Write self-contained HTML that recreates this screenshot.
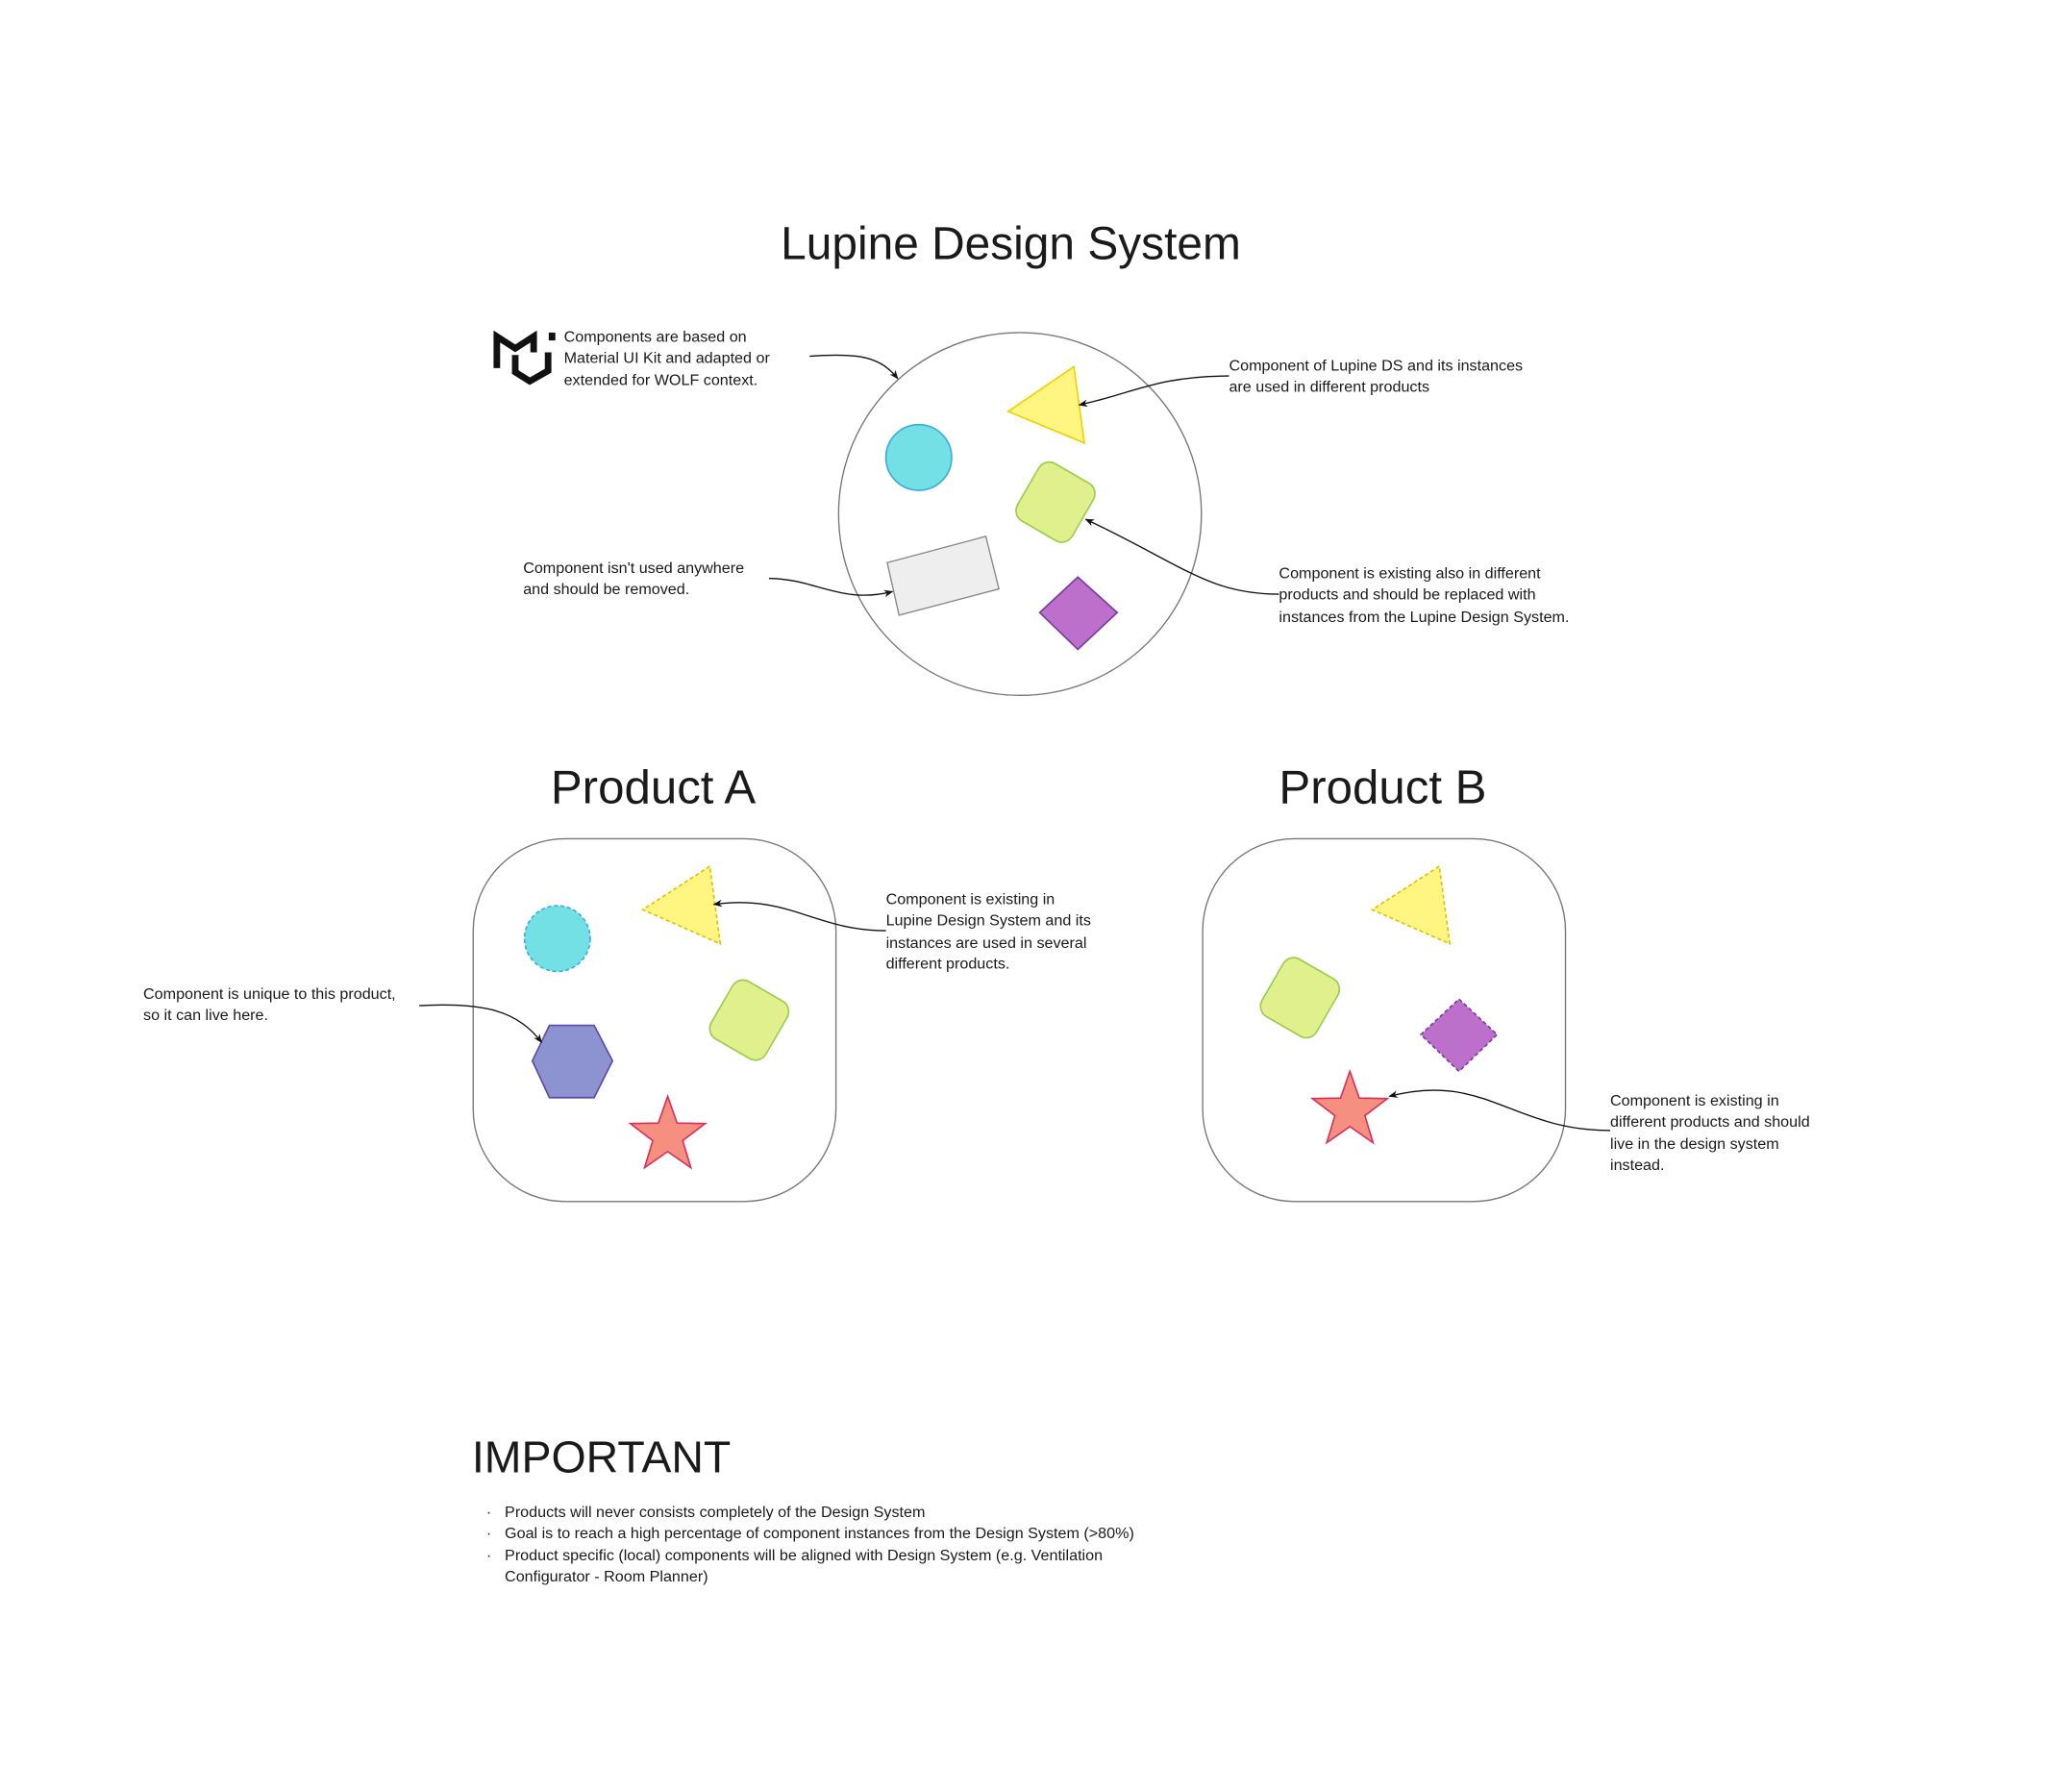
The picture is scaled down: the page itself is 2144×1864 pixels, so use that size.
<!DOCTYPE html>
<html><head><meta charset="utf-8"><style>
html,body{margin:0;padding:0;background:#fff;}
svg{display:block;}
text{font-family:"Liberation Sans",sans-serif;fill:#1a1a1a;}
.s{font-size:11.8px;}
</style></head><body>
<svg width="2144" height="1864" viewBox="0 0 1568 1363.2" preserveAspectRatio="none" xmlns="http://www.w3.org/2000/svg">
<defs>
<marker id="a" viewBox="0 0 10 10" refX="9" refY="5" markerWidth="7" markerHeight="7" orient="auto-start-reverse"><path d="M0,1 L10,5 L0,9 L3,5 z" fill="#111"/></marker>
<g id="star"><polygon points="0,-30 7.1,-9.7 28.5,-9.3 11.4,3.7 17.6,24.3 0,12 -17.6,24.3 -11.4,3.7 -28.5,-9.3 -7.1,-9.7" fill="#f59080" stroke="#d8305a" stroke-width="1.2" stroke-linejoin="miter"/></g>
<g id="gsq"><rect x="-24" y="-24" width="48" height="48" rx="9" fill="#e0f08c" stroke="#9ccc50" stroke-width="1.2"/></g>
</defs>

<text x="769" y="197" font-size="35" text-anchor="middle">Lupine Design System</text>

<circle cx="776" cy="391" r="138" fill="none" stroke="#777" stroke-width="1"/>

<g fill="none" stroke="#111" stroke-width="5" stroke-linejoin="miter">
<path d="M378,280 L378,256 L392,265 L406,256 L406,268"/>
<path d="M392,270 L392,283 L403,290 L417,282 L417,268"/>
<path d="M420,253 L420,259"/>
</g>

<text class="s" x="429" y="260">Components are based on</text>
<text class="s" x="429" y="276">Material UI Kit and adapted or</text>
<text class="s" x="429" y="293">extended for WOLF context.</text>
<path d="M616,271 C655,268 670,272 683,288" fill="none" stroke="#111" stroke-width="1" marker-end="url(#a)"/>

<polygon points="817,279 767,313 825,337" fill="#fff580" stroke="#f0d000" stroke-width="1.2"/>
<circle cx="699" cy="348" r="25" fill="#72e0e5" stroke="#3aaed8" stroke-width="1.2"/>
<use href="#gsq" transform="translate(803,382) rotate(30) scale(1,1.05)"/>
<polygon points="675,428 750,408 760,448 684,468" fill="#eeeeee" stroke="#888" stroke-width="1"/>
<polygon points="820,439 850,466 820,494 791,466" fill="#bd6fcc" stroke="#7a3a9c" stroke-width="1.2"/>

<text class="s" x="935" y="282">Component of Lupine DS and its instances</text>
<text class="s" x="935" y="298">are used in different products</text>
<path d="M935,286 C880,286 860,300 821,308" fill="none" stroke="#111" stroke-width="1" marker-end="url(#a)"/>

<text class="s" x="398" y="436">Component isn't used anywhere</text>
<text class="s" x="398" y="452">and should be removed.</text>
<path d="M585,440 C620,440 640,460 679,450" fill="none" stroke="#111" stroke-width="1" marker-end="url(#a)"/>

<text class="s" x="973" y="440">Component is existing also in different</text>
<text class="s" x="973" y="456">products and should be replaced with</text>
<text class="s" x="973" y="473">instances from the Lupine Design System.</text>
<path d="M973,452 C920,452 900,430 826,395" fill="none" stroke="#111" stroke-width="1" marker-end="url(#a)"/>

<text x="497" y="611" font-size="36" text-anchor="middle">Product A</text>
<rect x="360" y="638" width="276" height="276" rx="70" fill="none" stroke="#777" stroke-width="1"/>
<circle cx="424" cy="714" r="25" fill="#72e0e5" stroke="#3aaed8" stroke-width="1.2" stroke-dasharray="3,2"/>
<polygon points="540,659 489,692 548,718" fill="#fff580" stroke="#e0c000" stroke-width="1.2" stroke-dasharray="3,2"/>
<use href="#gsq" transform="translate(570,776) rotate(30) scale(1,1.05)"/>
<polygon points="418,780 452,780 466,807 452,835 418,835 405,807" fill="#8d93d1" stroke="#5a4aa6" stroke-width="1.2"/>
<use href="#star" transform="translate(508,864)"/>
<text class="s" x="674" y="688">Component is existing in</text>
<text class="s" x="674" y="704">Lupine Design System and its</text>
<text class="s" x="674" y="721">instances are used in several</text>
<text class="s" x="674" y="737">different products.</text>
<path d="M674,708 C620,708 600,680 543,688" fill="none" stroke="#111" stroke-width="1" marker-end="url(#a)"/>
<text class="s" x="109" y="760">Component is unique to this product,</text>
<text class="s" x="109" y="776">so it can live here.</text>
<path d="M319,765 C370,762 395,770 412,793" fill="none" stroke="#111" stroke-width="1" marker-end="url(#a)"/>

<text x="1052" y="611" font-size="36" text-anchor="middle">Product B</text>
<rect x="915" y="638" width="276" height="276" rx="70" fill="none" stroke="#777" stroke-width="1"/>
<polygon points="1095,659 1044,692 1103,718" fill="#fff580" stroke="#e0c000" stroke-width="1.2" stroke-dasharray="3,2"/>
<use href="#gsq" transform="translate(989,759) rotate(30) scale(1,1.05)"/>
<polygon points="1110,760 1139,787 1110,815 1081,787" fill="#bd6fcc" stroke="#7a3a9c" stroke-width="1.2" stroke-dasharray="3,2"/>
<use href="#star" transform="translate(1027,845)"/>
<text class="s" x="1225" y="841">Component is existing in</text>
<text class="s" x="1225" y="857">different products and should</text>
<text class="s" x="1225" y="874">live in the design system</text>
<text class="s" x="1225" y="890">instead.</text>
<path d="M1225,860 C1150,860 1130,815 1057,834" fill="none" stroke="#111" stroke-width="1" marker-end="url(#a)"/>

<text x="359" y="1120" font-size="34">IMPORTANT</text>
<text class="s" x="370" y="1154">·</text>
<text class="s" x="384" y="1154">Products will never consists completely of the Design System</text>
<text class="s" x="370" y="1170">·</text>
<text class="s" x="384" y="1170">Goal is to reach a high percentage of component instances from the Design System (&gt;80%)</text>
<text class="s" x="370" y="1187">·</text>
<text class="s" x="384" y="1187">Product specific (local) components will be aligned with Design System (e.g. Ventilation</text>
<text class="s" x="384" y="1203">Configurator - Room Planner)</text>
</svg>
</body></html>
